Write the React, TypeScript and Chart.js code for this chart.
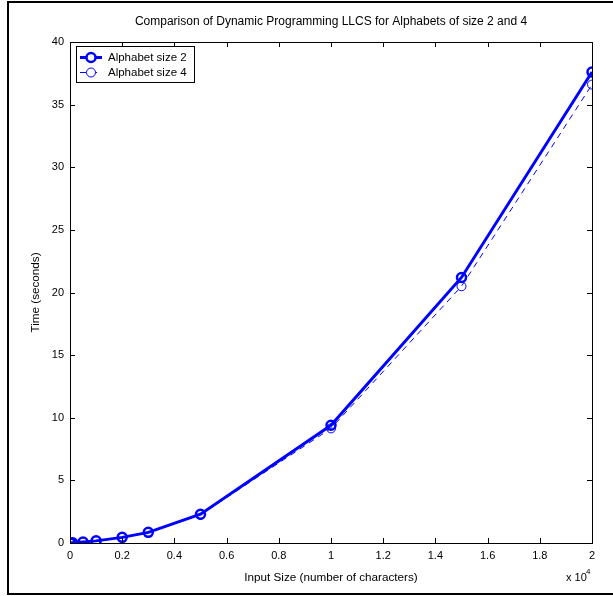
import React, { useEffect, useRef } from "react";
import { Chart, registerables } from "chart.js";

Chart.register(...registerables);

const inputSizes = [10, 100, 500, 1000, 2000, 3000, 5000, 10000, 15000, 20000];
const alphabet2 = [0.0, 0.02, 0.08, 0.17, 0.45, 0.85, 2.3, 9.4, 21.2, 37.6];
const alphabet4 = [0.0, 0.02, 0.08, 0.16, 0.43, 0.83, 2.25, 9.15, 20.5, 36.6];
const seriesNames = ["Alphabet size 2", "Alphabet size 4"];
const chartTitle = "Comparison of Dynamic Programming LLCS for Alphabets of size 2 and 4";
const xTitle = "Input Size (number of characters)";
const yTitle = "Time (seconds)";

const FONT = "'Liberation Sans', Arial, Helvetica, sans-serif";
const BLUE = "#0000FF";

const decorPlugin = {
  id: "decor",
  afterDraw(chart: any) {
    const ctx = chart.ctx as CanvasRenderingContext2D;
    const a = chart.chartArea;
    const xs = chart.scales.x;
    const ys = chart.scales.y;
    ctx.save();
    // axes box
    ctx.strokeStyle = "#000";
    ctx.lineWidth = 1;
    ctx.setLineDash([]);
    ctx.strokeRect(Math.round(a.left) + 0.5, Math.round(a.top) + 0.5, Math.round(a.right - a.left), Math.round(a.bottom - a.top));
    // inner ticks
    const tl = 5;
    ctx.beginPath();
    xs.ticks.forEach((t: any) => {
      const px = Math.round(xs.getPixelForValue(t.value)) + 0.5;
      ctx.moveTo(px, a.bottom);
      ctx.lineTo(px, a.bottom - tl);
      ctx.moveTo(px, a.top);
      ctx.lineTo(px, a.top + tl);
    });
    ys.ticks.forEach((t: any) => {
      const py = Math.round(ys.getPixelForValue(t.value)) + 0.5;
      ctx.moveTo(a.left, py);
      ctx.lineTo(a.left + tl, py);
      ctx.moveTo(a.right, py);
      ctx.lineTo(a.right - tl, py);
    });
    ctx.stroke();

    // texts
    ctx.fillStyle = "#000";
    ctx.textAlign = "center";
    ctx.textBaseline = "middle";
    const cx = (a.left + a.right) / 2;
    ctx.font = `12px ${FONT}`;
    ctx.fillText(chartTitle, cx, 22);
    ctx.font = `11.7px ${FONT}`;
    ctx.fillText(xTitle, cx, 578);
    ctx.save();
    ctx.translate(36, (a.top + a.bottom) / 2);
    ctx.rotate(-Math.PI / 2);
    ctx.fillText(yTitle, 0, 0);
    ctx.restore();
    // x 10^4
    ctx.font = `11px ${FONT}`;
    ctx.textAlign = "left";
    ctx.fillText("x 10", 566, 578);
    ctx.font = `8px ${FONT}`;
    ctx.fillText("4", 586, 572);

    // legend
    const ds = chart.data.datasets;
    ctx.lineWidth = 1;
    ctx.strokeStyle = "#000";
    ctx.fillStyle = "#fff";
    ctx.fillRect(76.5, 46.5, 118, 36);
    ctx.strokeRect(76.5, 46.5, 118, 36);
    const rows = [57, 72];
    ds.forEach((d: any, i: number) => {
      const y = rows[i] + 0.5;
      ctx.strokeStyle = d.borderColor;
      ctx.lineWidth = d.borderWidth;
      ctx.setLineDash(d.borderDash || []);
      ctx.beginPath();
      ctx.moveTo(80, y);
      ctx.lineTo(102, y);
      ctx.stroke();
      ctx.setLineDash([]);
      ctx.lineWidth = d.pointBorderWidth;
      ctx.beginPath();
      ctx.arc(91, y, d.pointRadius, 0, Math.PI * 2);
      ctx.fillStyle = "#fff";
      ctx.fill();
      ctx.stroke();
      ctx.fillStyle = "#000";
      ctx.font = `11.5px ${FONT}`;
      ctx.textAlign = "left";
      ctx.textBaseline = "middle";
      ctx.fillText(seriesNames[i], 108, y);
    });

    // figure border
    ctx.strokeStyle = "#000";
    ctx.lineWidth = 2;
    ctx.strokeRect(8, 2, 640, 592);
    ctx.restore();
  },
};

export default function App() {
  const ref = useRef<HTMLCanvasElement | null>(null);
  useEffect(() => {
    document.body.style.margin = "0";
    const canvas = ref.current;
    if (!canvas) return;
    const chart = new Chart(canvas, {
      type: "line",
      data: {
        datasets: [
          {
            label: seriesNames[0],
            data: inputSizes.map((x, i) => ({ x, y: alphabet2[i] })),
            borderColor: BLUE,
            backgroundColor: "rgba(0,0,0,0)",
            borderWidth: 3,
            pointRadius: 4.5,
            pointBorderWidth: 2.5,
            pointBorderColor: BLUE,
            pointBackgroundColor: "rgba(0,0,0,0)",
            tension: 0,
            order: 1,
          },
          {
            label: seriesNames[1],
            data: inputSizes.map((x, i) => ({ x, y: alphabet4[i] })),
            borderColor: BLUE,
            backgroundColor: "rgba(0,0,0,0)",
            borderWidth: 1,
            borderDash: [6, 5],
            pointRadius: 4.5,
            pointBorderWidth: 1,
            pointBorderColor: BLUE,
            pointBackgroundColor: "rgba(0,0,0,0)",
            tension: 0,
            order: 0,
          },
        ],
      },
      options: {
        animation: false,
        responsive: false,
        devicePixelRatio: 1,
        layout: { padding: { left: 0, right: 21, top: 42, bottom: 0 } },
        plugins: {
          legend: { display: false },
          title: { display: false },
          tooltip: { enabled: false },
        },
        scales: {
          x: {
            type: "linear",
            min: 0,
            max: 20000,
            grid: { display: false, drawTicks: false },
            border: { display: false },
            afterFit: (s: any) => {
              s.height = 53;
            },
            ticks: {
              stepSize: 2000,
              padding: 6,
              color: "#000",
              font: { family: FONT, size: 11 },
              maxRotation: 0,
              autoSkip: false,
              callback: (v: any) => String(Math.round(Number(v) / 1000) / 10),
            },
          },
          y: {
            type: "linear",
            min: 0,
            max: 40,
            grid: { display: false, drawTicks: false },
            border: { display: false },
            afterFit: (s: any) => {
              s.width = 70;
            },
            ticks: {
              stepSize: 5,
              padding: 6,
              color: "#000",
              font: { family: FONT, size: 11 },
              autoSkip: false,
            },
          },
        },
      },
      plugins: [decorPlugin],
    });
    return () => chart.destroy();
  }, []);
  return (
    <div style={{ position: "fixed", left: 0, top: 0, width: 613, height: 596, background: "#fff" }}>
      <canvas ref={ref} width={613} height={596} style={{ display: "block" }} />
    </div>
  );
}
